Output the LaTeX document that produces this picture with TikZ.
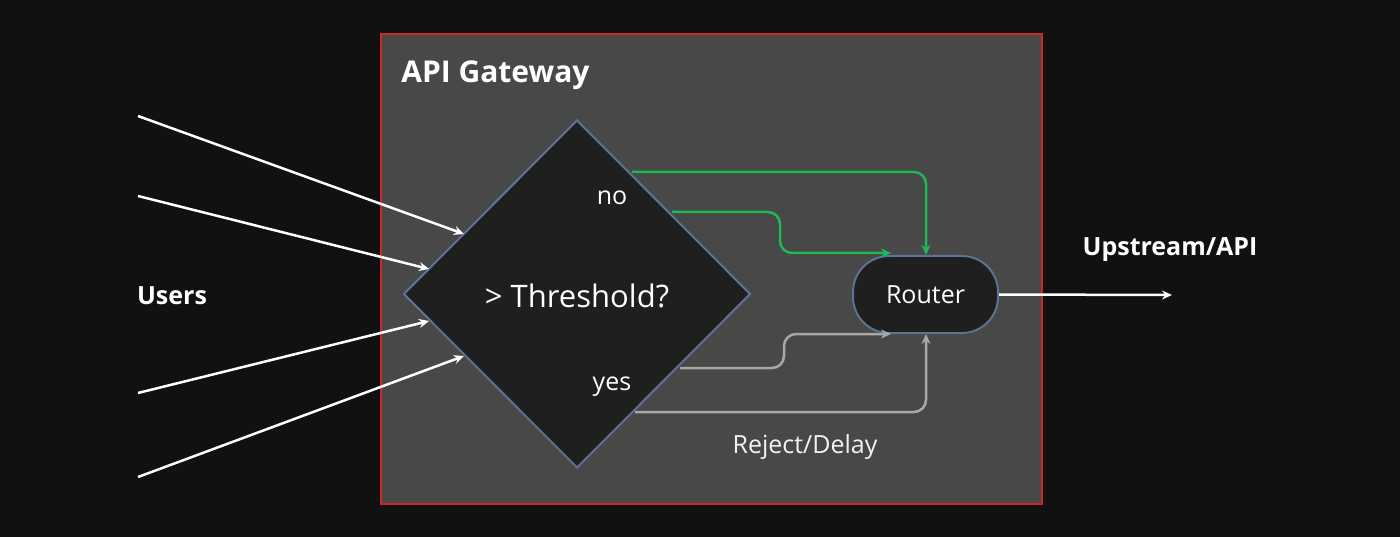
\documentclass[tikz,border=0pt]{standalone}
\usepackage{fontspec}
\setmainfont{Open Sans}
\usetikzlibrary{shapes.geometric,arrows.meta}
\definecolor{bgdark}{HTML}{111111}
\definecolor{gatefill}{HTML}{474847}
\definecolor{gatered}{HTML}{D0262A}
\definecolor{boxfill}{HTML}{1F1F1F}
\definecolor{steel}{HTML}{5C7393}
\definecolor{okgreen}{HTML}{1DB954}
\definecolor{rejgray}{HTML}{A8A8A8}
\tikzset{every picture/.style={line width=0.75pt}}

\begin{document}
\begin{tikzpicture}[x=1pt,y=1pt,yscale=-1,xscale=1,
  txt/.style={text=white,inner sep=0pt},
  big/.style={font=\fontsize{25}{30}\selectfont},
  flow/.style={line width=2.5pt,rounded corners=12pt,-{Stealth[length=10pt,width=9pt]}},
  shape box/.style={fill=boxfill,draw=steel,line width=2pt}]
\useasboundingbox (0,0) rectangle (1400,537);
\fill [bgdark] (0,0) rectangle (1400,537);

%Gateway
\draw [fill=gatefill,draw=gatered,line width=2.5pt] (381,34) rectangle (1042,504);
\node (gwlabel) [txt,anchor=west,font=\bfseries\fontsize{30}{36}\selectfont] at (401,75) {API Gateway};

%Decision
\node (check) [shape box,diamond,minimum width=347pt,minimum height=348pt,inner sep=0pt,aspect=1] at (577,294) {};
\node (checklabel) [txt,font=\fontsize{31}{36}\selectfont] at (577,296) {> Threshold?};
\node (no) [txt,big] at (612,198) {no};
\node (yes) [txt,big] at (612,387) {yes};

%Router
\node (router) [shape box,rounded corners=36pt,minimum width=145pt,minimum height=77pt,txt,big] at (925.5,294.5) {Router};
\coordinate (upstream) at (1172,295);
\draw [flow,white] (router.east) -- (upstream);
\node (uplabel) [txt,font=\bfseries\fontsize{25}{30}\selectfont] at (1170,250) {Upstream/API};

%Users
\node (users) [txt,font=\bfseries\fontsize{25}{30}\selectfont] at (172,296) {Users};
\coordinate (u1) at (138,116);
\coordinate (u2) at (138,196);
\coordinate (u3) at (138,393);
\coordinate (u4) at (138,477);
\coordinate (c1) at (464,234);
\coordinate (c2) at (429,269);
\coordinate (c3) at (429,321);
\coordinate (c4) at (464,356);
\foreach \i in {1,...,4}
  \draw [flow,white] (u\i) -- (c\i);

%Pass
\coordinate (n1) at (632,172);
\coordinate (n2) at (672,212);
\coordinate (rtop) at (926,255);
\coordinate (rleftup) at (891,253);
\draw [flow,okgreen] (n1) -- (926,172) -- (rtop);
\draw [flow,okgreen] (n2) -- (780,212) -- (780,253) -- (rleftup);

%Reject
\coordinate (y1) at (680,368);
\coordinate (y2) at (635,412);
\coordinate (rbot) at (926,334);
\coordinate (rleftdn) at (891,334);
\draw [flow,rejgray] (y1) -- (784,368) -- (784,334) -- (rleftdn);
\draw [flow,rejgray] (y2) -- (926,412) -- (rbot);
\node (reject) [txt,text=white!90!gray,big] at (805,447) {Reject/Delay};
\end{tikzpicture}
\end{document}
